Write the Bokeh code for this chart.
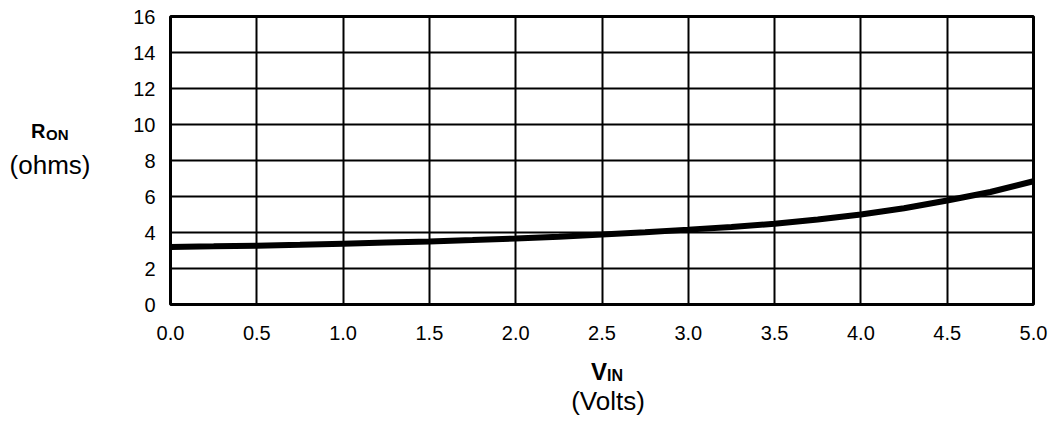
from bokeh.plotting import figure
from bokeh.models import Range1d, FixedTicker, Div
from bokeh.layouts import column
from bokeh.embed import file_html
from bokeh.resources import INLINE

# ---- data ----
v_in = [0.0, 0.25, 0.5, 0.75, 1.0, 1.25, 1.5, 1.75, 2.0, 2.25, 2.5, 2.75,
        3.0, 3.25, 3.5, 3.75, 4.0, 4.25, 4.5, 4.75, 5.0]
r_on = [3.2, 3.23, 3.27, 3.32, 3.38, 3.44, 3.5, 3.58, 3.67, 3.77, 3.89, 4.02,
        4.16, 4.31, 4.48, 4.72, 5.0, 5.35, 5.78, 6.25, 6.85]
x_ticks = [0.0, 0.5, 1.0, 1.5, 2.0, 2.5, 3.0, 3.5, 4.0, 4.5, 5.0]
x_tick_labels = ["0.0", "0.5", "1.0", "1.5", "2.0", "2.5", "3.0", "3.5", "4.0", "4.5", "5.0"]
y_ticks = [0, 2, 4, 6, 8, 10, 12, 14, 16]
y_tick_labels = ["0", "2", "4", "6", "8", "10", "12", "14", "16"]
y_title_main, y_title_sub, y_title_unit = "R", "ON", "(ohms)"
x_title_main, x_title_sub, x_title_unit = "V", "IN", "(Volts)"

FONT = "Liberation Sans"
FIG_H = 404  # 16 + 288 + 100
DIV_ORIGIN_Y = FIG_H + 17  # measured page y of the overlay's origin
DIV_ORIGIN_X = 5           # measured page x of the overlay's origin

p = figure(frame_width=863, frame_height=288,
           x_range=Range1d(0, 5), y_range=Range1d(0, 16),
           output_backend="svg", toolbar_location=None,
           min_border_left=170, min_border_right=18,
           min_border_top=16, min_border_bottom=FIG_H - 16 - 288,
           background_fill_color="white", border_fill_color="white")

p.outline_line_color = "black"
p.outline_line_width = 3
p.outline_line_alpha = 1.0

for ax in (p.xaxis, p.yaxis):
    ax.axis_line_color = None
    ax.major_tick_line_color = None
    ax.minor_tick_line_color = None
    ax.major_label_text_font = FONT
    ax.major_label_text_font_size = "20px"
    ax.major_label_text_color = "black"

p.xaxis.ticker = FixedTicker(ticks=x_ticks)
p.xaxis.major_label_overrides = {t: l for t, l in zip(x_ticks, x_tick_labels)}
p.xaxis.major_label_standoff = 15
p.yaxis.ticker = FixedTicker(ticks=y_ticks)
p.yaxis.major_label_overrides = {t: l for t, l in zip(y_ticks, y_tick_labels)}
p.yaxis.major_label_standoff = 9

p.xgrid.ticker = FixedTicker(ticks=x_ticks)
p.ygrid.ticker = FixedTicker(ticks=y_ticks)
for g in (p.xgrid, p.ygrid):
    g.grid_line_color = "black"
    g.grid_line_width = 2
    g.grid_line_alpha = 1.0

p.line(v_in, r_on, line_color="black", line_width=6, line_cap="round")

# axis titles as an HTML overlay placed just below the figure (negative offsets)
def span(text, left, baseline, size, bold=False, center=False):
    top = baseline - 0.8465 * size - DIV_ORIGIN_Y
    left = left - DIV_ORIGIN_X
    weight = "bold" if bold else "normal"
    if center:
        return (f'<div style="position:absolute;left:{left-60}px;top:{top:.1f}px;width:120px;'
                f'text-align:center;font-size:{size}px;line-height:1;font-weight:{weight};'
                f'white-space:nowrap;">{text}</div>')
    return (f'<div style="position:absolute;left:{left}px;top:{top:.1f}px;'
            f'font-size:{size}px;line-height:1;font-weight:{weight};white-space:nowrap;">{text}</div>')

html = (f'<div style="position:relative;z-index:10;width:1051px;height:0px;overflow:visible;'
        f'font-family:\'{FONT}\';color:black;">'
        + span(y_title_main, 31, 138, 20, bold=True)
        + span(y_title_sub, 46, 140, 15, bold=True)
        + span(y_title_unit, 50, 174, 26, center=True)
        + span(x_title_main, 591, 380, 24, bold=True)
        + span(x_title_sub, 607, 381.5, 16, bold=True)
        + span(x_title_unit, 608, 410, 26, center=True)
        + '</div>')

titles = Div(text=html, width=1051, height=1,
             styles={"overflow": "visible", "position": "relative", "z-index": "10"})

layout = column(p, titles, spacing=0)
open("out.html", "w").write(file_html(layout, INLINE))
